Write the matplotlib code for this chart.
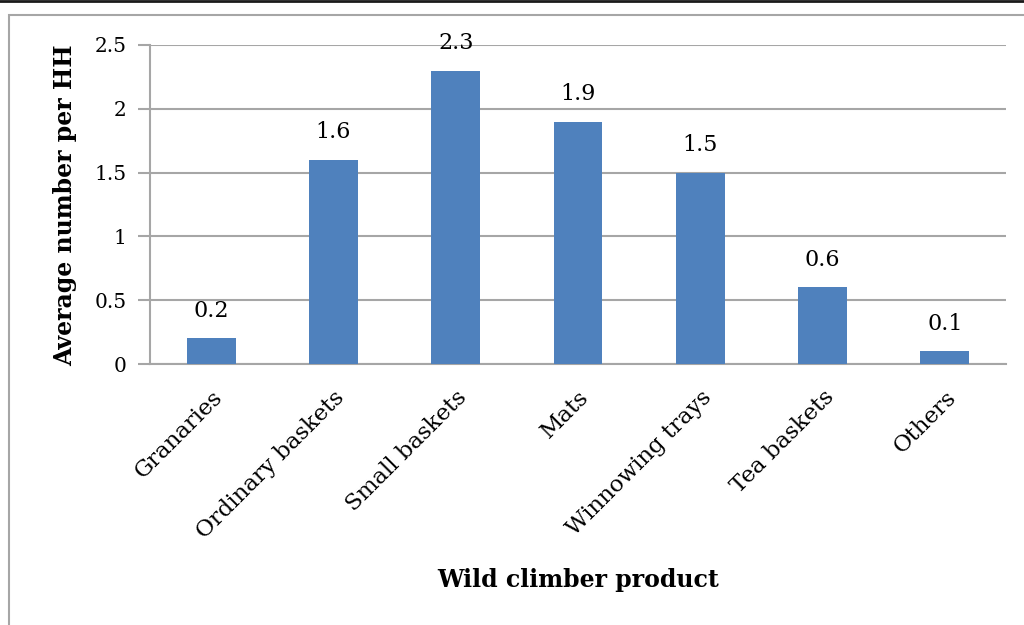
import matplotlib.pyplot as plt
from matplotlib.patches import Rectangle
from matplotlib.lines import Line2D

products = ['Granaries', 'Ordinary baskets', 'Small baskets', 'Mats',
            'Winnowing trays', 'Tea baskets', 'Others']
avg_per_hh = [0.2, 1.6, 2.3, 1.9, 1.5, 0.6, 0.1]
y_ticks = [0, 0.5, 1, 1.5, 2, 2.5]
y_tick_labels = ['0', '0.5', '1', '1.5', '2', '2.5']

plt.rcParams['font.family'] = ['DejaVu Serif']

fig = plt.figure(figsize=(10.24, 6.25), dpi=100)

# frame around the chart and a dark rule along the top edge
fig.patches.append(Rectangle((9/1024, -0.05), 1.1, 1 - 15/625 + 0.05,
                             transform=fig.transFigure, fill=False,
                             edgecolor='#a6a6a6', linewidth=1.5))
fig.lines.append(Line2D([0, 1], [0.999, 0.999], transform=fig.transFigure,
                        color='#1a1a1a', linewidth=2))

ax = fig.add_axes([150/1024, 1 - 364/625, (1006 - 150)/1024, (364 - 45)/625])

x = range(len(products))
bars = ax.bar(x, avg_per_hh, width=0.4, color='#4f81bd', zorder=3)
for i, v in enumerate(avg_per_hh):
    ax.text(i, v + 0.13, f'{v:g}', ha='center', va='bottom', fontsize=16)

ax.set_xlim(-0.5, len(products) - 0.5)
ax.set_ylim(0, 2.5)
ax.set_yticks(y_ticks)
ax.set_yticklabels(y_tick_labels, fontsize=14.5)
ax.set_xticks(list(x))
ax.set_xticklabels(products, rotation=45, ha='right', rotation_mode='anchor',
                   fontsize=16.5)
ax.tick_params(axis='x', length=0, pad=16)
ax.tick_params(axis='y', length=9, color='#a6a6a6', width=1.5, pad=8)

ax.yaxis.grid(True, color='#a6a6a6', linewidth=1.5, zorder=0)
for side in ['top', 'right']:
    ax.spines[side].set_visible(False)
for side in ['left', 'bottom']:
    ax.spines[side].set_color('#a6a6a6')
    ax.spines[side].set_linewidth(1.5)

fig.text(65/1024, 1 - 205/625, 'Average number per HH', rotation=90,
         ha='center', va='center', fontsize=17, fontweight='bold')
fig.text(578/1024, 1 - 580/625, 'Wild climber product',
         ha='center', va='center', fontsize=17, fontweight='bold')

fig.savefig('out.png', dpi=100)
